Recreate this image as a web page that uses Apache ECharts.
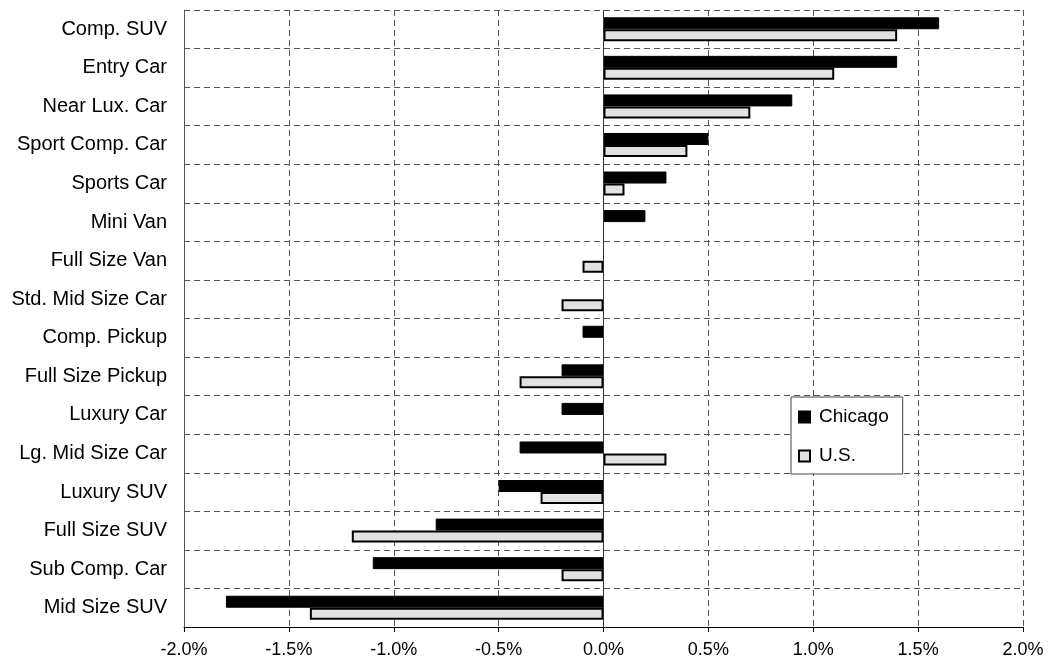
<!DOCTYPE html>
<html>
<head>
<meta charset="utf-8">
<script src="https://cdn.jsdelivr.net/npm/echarts@6/dist/echarts.min.js"></script>
<style>
  html, body { margin: 0; padding: 0; background: #fff; }
  #chart { width: 1048px; height: 667px; }
</style>
</head>
<body>
<div id="chart"></div>
<script>
// Segment share change, in percentage points
const categories = [
  'Comp. SUV', 'Entry Car', 'Near Lux. Car', 'Sport Comp. Car', 'Sports Car',
  'Mini Van', 'Full Size Van', 'Std. Mid Size Car', 'Comp. Pickup',
  'Full Size Pickup', 'Luxury Car', 'Lg. Mid Size Car', 'Luxury SUV',
  'Full Size SUV', 'Sub Comp. Car', 'Mid Size SUV'
];
const chicago = [1.6, 1.4, 0.9, 0.5, 0.3, 0.2, 0, 0, -0.1, -0.2, -0.2, -0.4, -0.5, -0.8, -1.1, -1.8];
const us      = [1.4, 1.1, 0.7, 0.4, 0.1, 0, -0.1, -0.2, 0, -0.4, 0, 0.3, -0.3, -1.2, -0.2, -1.4];
const xMin = -2, xMax = 2, xStep = 0.5;

const FONT = 'Liberation Sans, Arial, sans-serif';
const GRID_LINE = { color: '#555', type: [6, 4], width: 1 };

// zero-length bars get no outline so they stay invisible
function barData(values, borderWidth) {
  return values.map(v => (v === 0 ? { value: v, itemStyle: { borderWidth: 0 } } : { value: v, itemStyle: { borderWidth } }));
}

const chart = echarts.init(document.getElementById('chart'));

chart.setOption({
  animation: false,
  backgroundColor: '#fff',
  grid: { left: 184, right: 25, top: 10, bottom: 40, containLabel: false },
  legend: {
    orient: 'vertical',
    left: 791, top: 397,
    padding: [10, 14, 8, 7],
    itemGap: 19,
    itemWidth: 11, itemHeight: 11,
    icon: 'rect',
    backgroundColor: '#fff',
    borderColor: '#444',
    borderWidth: 1,
    textStyle: { fontFamily: FONT, fontSize: 19, color: '#000', lineHeight: 20, padding: [0, 0, 0, 4] },
    data: ['Chicago', 'U.S.']
  },
  xAxis: {
    type: 'value',
    min: xMin, max: xMax, interval: xStep,
    axisLine: { show: true, onZero: false, lineStyle: { color: '#000', width: 1 } },
    axisTick: { show: true, length: 5, lineStyle: { color: '#000' } },
    axisLabel: {
      fontFamily: FONT, fontSize: 18, color: '#000', margin: 14,
      formatter: v => v.toFixed(1) + '%'
    },
    splitLine: { show: true, lineStyle: GRID_LINE }
  },
  yAxis: {
    type: 'category',
    data: categories,
    inverse: true,
    axisLine: { show: true, onZero: false, lineStyle: { color: '#555', width: 1 } },
    axisTick: { show: false },
    axisLabel: { fontFamily: FONT, fontSize: 20, color: '#000', margin: 17 },
    splitLine: { show: true, lineStyle: GRID_LINE }
  },
  series: [
    {
      name: 'Chicago',
      type: 'bar',
      data: barData(chicago, 1),
      barWidth: 12,
      barGap: '0%',
      itemStyle: { color: '#000', borderColor: '#000', borderWidth: 1 },
      markLine: {
        silent: true,
        symbol: 'none',
        label: { show: false },
        lineStyle: { color: '#333', type: 'solid', width: 1 },
        data: [{ xAxis: 0 }]
      }
    },
    {
      name: 'U.S.',
      type: 'bar',
      data: barData(us, 2),
      barWidth: 12,
      barGap: '0%',
      itemStyle: { color: '#e2e2e2', borderColor: '#000', borderWidth: 2 }
    }
  ]
});
</script>
</body>
</html>
